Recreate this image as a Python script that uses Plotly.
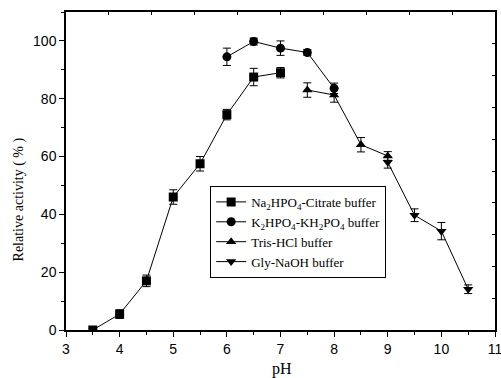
import plotly.graph_objects as go

# pH-activity profile in four buffer systems
ph_citrate = [3.5, 4.0, 4.5, 5.0, 5.5, 6.0, 6.5, 7.0]
act_citrate = [0.0, 5.5, 17.0, 46.0, 57.5, 74.5, 87.5, 89.0]
err_citrate = [0.5, 1.5, 2.0, 2.5, 2.5, 1.8, 3.0, 1.8]

ph_phosphate = [6.0, 6.5, 7.0, 7.5, 8.0]
act_phosphate = [94.5, 99.8, 97.5, 96.0, 83.6]
err_phosphate = [3.0, 1.2, 2.5, 1.0, 1.8]

ph_tris = [7.5, 8.0, 8.5, 9.0]
act_tris = [83.0, 81.3, 64.1, 60.2]
err_tris = [2.5, 2.5, 2.5, 1.5]

ph_gly = [9.0, 9.5, 10.0, 10.5]
act_gly = [58.0, 39.7, 34.2, 14.1]
err_gly = [2.0, 2.2, 3.0, 1.5]

series = [
    ("Na<sub>2</sub>HPO<sub>4</sub>-Citrate buffer", ph_citrate, act_citrate, err_citrate, "square"),
    ("K<sub>2</sub>HPO<sub>4</sub>-KH<sub>2</sub>PO<sub>4</sub> buffer", ph_phosphate, act_phosphate, err_phosphate, "circle"),
    ("Tris-HCl buffer", ph_tris, act_tris, err_tris, "triangle-up"),
    ("Gly-NaOH buffer", ph_gly, act_gly, err_gly, "triangle-down"),
]

fig = go.Figure()
for name, x, y, e, sym in series:
    fig.add_trace(go.Scatter(
        x=x, y=y, name=name, mode="lines+markers",
        line=dict(color="black", width=1),
        marker=dict(symbol=sym, size=9, color="black"),
        error_y=dict(type="data", array=e, visible=True, color="black",
                     thickness=1, width=4),
    ))

# invisible trace that carries the secondary (top/right) frame axes
fig.add_trace(go.Scatter(x=[0, 10], y=[0, 10], xaxis="x2", yaxis="y2",
                         mode="markers", marker=dict(opacity=0, size=1),
                         showlegend=False, hoverinfo="skip"))

tick_font = dict(family="Liberation Sans, Arial, sans-serif", size=14, color="black")
serif = "Liberation Serif, Times New Roman, serif"

fig.update_layout(
    width=501, height=378,
    margin=dict(l=66, r=6, t=12, b=48),
    paper_bgcolor="white", plot_bgcolor="white",
    showlegend=True,
    legend=dict(
        x=0.336, y=0.453, xanchor="left", yanchor="top",
        bordercolor="black", borderwidth=1, bgcolor="white",
        font=dict(family=serif, size=13, color="black"),
        tracegroupgap=0, itemwidth=30,
    ),
    xaxis=dict(
        range=[3, 11], tickmode="linear", tick0=3, dtick=1,
        ticks="outside", ticklen=5, tickwidth=1, tickcolor="black",
        minor=dict(dtick=0.5, ticks="outside", ticklen=3, tickcolor="black"),
        showgrid=False, zeroline=False, automargin=False,
        ticklabeloverflow="allow",
        showline=True, linecolor="black", linewidth=1.5, mirror=True,
        tickfont=tick_font,
    ),
    yaxis=dict(
        range=[0, 110], tickmode="linear", tick0=0, dtick=20,
        ticks="outside", ticklen=5, tickwidth=1, tickcolor="black",
        minor=dict(dtick=10, ticks="outside", ticklen=3, tickcolor="black"),
        showgrid=False, zeroline=False, automargin=False,
        showline=True, linecolor="black", linewidth=1.5, mirror=True,
        tickfont=tick_font,
    ),
    xaxis2=dict(
        overlaying="x", anchor="y", side="top", range=[0, 10],
        tickmode="linear", tick0=0, dtick=1, automargin=False,
        ticks="inside", ticklen=3, tickcolor="black", showticklabels=False,
        showgrid=False, zeroline=False, showline=False,
    ),
    yaxis2=dict(
        overlaying="y", anchor="x", side="right", range=[0, 10],
        tickmode="linear", tick0=0, dtick=1, automargin=False,
        ticks="inside", ticklen=3, tickcolor="black", showticklabels=False,
        showgrid=False, zeroline=False, showline=False,
    ),
    annotations=[
        dict(text="pH", xref="paper", yref="paper", x=0.503, y=-0.123,
             xanchor="center", yanchor="middle", showarrow=False,
             font=dict(family=serif, size=16, color="black")),
        dict(text="Relative activity ( % )", xref="paper", yref="paper",
             x=-0.11, y=0.41, xanchor="center", yanchor="middle",
             textangle=-90, showarrow=False,
             font=dict(family=serif, size=14, color="black")),
    ],
)

fig.write_html("out.html")
